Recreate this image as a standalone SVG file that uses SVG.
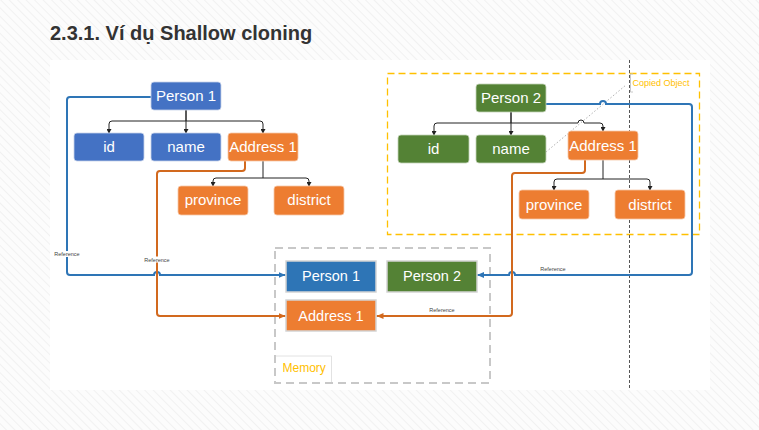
<svg xmlns="http://www.w3.org/2000/svg" width="759" height="430" viewBox="0 0 759 430">
<defs>
<pattern id="hatch" width="6" height="6" patternUnits="userSpaceOnUse" patternTransform="rotate(-45)">
<rect width="6" height="6" fill="#fcfcfc"/>
<line x1="0" y1="0" x2="0" y2="6" stroke="#f1f1f1" stroke-width="2"/>
</pattern>
<marker id="aBlk" markerWidth="5" markerHeight="5" refX="4" refY="2.5" orient="auto" markerUnits="userSpaceOnUse">
<path d="M0,0 L4.5,2.5 L0,5 Z" fill="#222"/>
</marker>
<marker id="aBlue" markerWidth="8" markerHeight="8" refX="7" refY="4" orient="auto" markerUnits="userSpaceOnUse">
<path d="M0,1 L7,4 L0,7 Z" fill="#2E75B6"/>
</marker>
<marker id="aOr" markerWidth="8" markerHeight="8" refX="7" refY="4" orient="auto" markerUnits="userSpaceOnUse">
<path d="M0,1 L7,4 L0,7 Z" fill="#D2691E"/>
</marker>
<style>
.t{font-family:"Liberation Sans",Arial,sans-serif;font-size:15px;fill:#fff;text-anchor:middle}
.tm{font-family:"Liberation Sans",Arial,sans-serif;font-size:14.5px;fill:#fff;text-anchor:middle}
.ref{font-family:"Liberation Sans",Arial,sans-serif;font-size:5.5px;fill:#444;text-anchor:middle}
.blue{fill:#4472C4;stroke:#c6d2ea;stroke-width:0.8}
.green{fill:#548235;stroke:#c3d3b8;stroke-width:0.8}
.orange{fill:#ED7D31;stroke:#f6c8a8;stroke-width:0.8}
.mem{stroke:#d4d4d4;stroke-width:1.5}
.tree{fill:none;stroke:#222;stroke-width:1;marker-end:url(#aBlk)}
.lb{fill:none;stroke:#2E75B6;stroke-width:2;marker-end:url(#aBlue)}
.lo{fill:none;stroke:#D2691E;stroke-width:2;marker-end:url(#aOr)}
</style>
</defs>
<rect width="759" height="430" fill="url(#hatch)"/>
<rect x="50" y="60" width="660" height="330" fill="#fff"/>
<text x="50" y="39.5" font-family="'Liberation Sans',Arial,sans-serif" font-size="20" font-weight="bold" fill="#333">2.3.1. Ví dụ Shallow cloning</text>

<g id="copied-object-frame">
<rect x="387.5" y="73.5" width="312" height="161" fill="none" stroke="#FFC000" stroke-width="1.3" stroke-dasharray="7,4"/>
<text x="632.5" y="86" font-family="'Liberation Sans',Arial,sans-serif" font-size="9" fill="#FFC000">Copied Object</text>
<path d="M633,74 H630.5 V92 H633" fill="none" stroke="#c8c8c8" stroke-width="1"/>
</g>

<g id="memory-frame">
<rect x="275" y="248" width="215" height="135" fill="none" stroke="#c8c8c8" stroke-width="2" stroke-dasharray="8,5"/>
<path d="M276,356 H331.5 V382" fill="none" stroke="#e2e2e2" stroke-width="1"/>
<text x="282.5" y="372" font-family="'Liberation Sans',Arial,sans-serif" font-size="12" fill="#FFC000">Memory</text>
</g>

<g id="divider">
<line x1="629.5" y1="60" x2="629.5" y2="390" stroke="#555" stroke-width="1" stroke-dasharray="3,2"/>
</g>

<g id="connectors">
<!-- left tree -->
<path class="tree" d="M186,110 V121 H112 Q109,121 109,124 V133"/>
<path class="tree" d="M186,110 V133"/>
<path class="tree" d="M186,121 H260 Q263,121 263,124 V133"/>
<path class="tree" d="M263,161 V178 H216 Q213,178 213,181 V186"/>
<path class="tree" d="M263,178 H306 Q309,178 309,181 V186"/>
<!-- right tree -->
<path class="tree" d="M511,112 V123 H437 Q434,123 434,126 V135"/>
<path class="tree" d="M511,112 V135"/>
<path class="tree" d="M511,123 H578 A3,3 0 0 1 584,123 H600 Q603,123 603,126 V131"/>
<path class="tree" d="M603,160 V179 H557 Q554,179 554,182 V190"/>
<path class="tree" d="M603,179 H647 Q650,179 650,182 V190"/>
<!-- callout -->
<line x1="546" y1="152" x2="626" y2="85" stroke="#b0b0b0" stroke-width="1" stroke-dasharray="1.5,2"/>
<!-- references -->
<path class="lb" d="M151,97 H70 Q67,97 67,100 V272 Q67,275 70,275 H154 A3,3 0 0 1 160,275 H285.5"/>
<path class="lo" d="M245,161 V168 Q245,171 242,171 H160 Q157,171 157,174 V313 Q157,316 160,316 H285.5"/>
<path class="lb" d="M546,104 H600 A3,3 0 0 1 606,104 H689 Q692,104 692,107 V272 Q692,275 689,275 H515 A3,3 0 0 0 509,275 H477"/>
<path class="lo" d="M585,160 V170 Q585,173 582,173 H515 Q512,173 512,176 V313 Q512,316 509,316 H376.5"/>
<rect x="54" y="251" width="26" height="6" fill="#fff"/>
<text class="ref" x="67" y="256">Reference</text>
<rect x="144" y="256.5" width="26" height="6" fill="#fff"/>
<text class="ref" x="157" y="261.5">Reference</text>
<text class="ref" x="553" y="270.5">Reference</text>
<text class="ref" x="442" y="312">Reference</text>
</g>

<g id="person1"><rect class="blue" x="151" y="82" width="70" height="28" rx="3"/><text class="t" x="186" y="101">Person 1</text></g>
<g id="p1-id"><rect class="blue" x="74" y="133" width="70" height="28" rx="3"/><text class="t" x="109" y="152">id</text></g>
<g id="p1-name"><rect class="blue" x="151" y="133" width="70" height="28" rx="3"/><text class="t" x="186" y="152">name</text></g>
<g id="p1-address"><rect class="orange" x="228" y="133" width="70" height="28" rx="3"/><text class="t" x="263" y="152">Address 1</text></g>
<g id="p1-province"><rect class="orange" x="178" y="186" width="70" height="29" rx="3"/><text class="t" x="213" y="205">province</text></g>
<g id="p1-district"><rect class="orange" x="274" y="186" width="70" height="29" rx="3"/><text class="t" x="309" y="205">district</text></g>

<g id="person2"><rect class="green" x="476" y="84" width="70" height="28" rx="3"/><text class="t" x="511" y="103">Person 2</text></g>
<g id="p2-id"><rect class="green" x="398" y="135" width="71" height="28" rx="3"/><text class="t" x="433.5" y="154">id</text></g>
<g id="p2-name"><rect class="green" x="476" y="135" width="70" height="28" rx="3"/><text class="t" x="511" y="154">name</text></g>
<g id="p2-address"><rect class="orange" x="568" y="131" width="70" height="29" rx="3"/><text class="t" x="603" y="150.5">Address 1</text></g>
<g id="p2-province"><rect class="orange" x="519" y="190" width="70" height="29" rx="3"/><text class="t" x="554" y="209.5">province</text></g>
<g id="p2-district"><rect class="orange" x="615" y="190" width="70" height="29" rx="3"/><text class="t" x="650" y="209.5">district</text></g>

<g id="mem-person1"><rect class="mem" x="286" y="261" width="90" height="31" fill="#2E75B6"/><text class="tm" x="331" y="281">Person 1</text></g>
<g id="mem-person2"><rect class="mem" x="387" y="261" width="90" height="31" fill="#548235"/><text class="tm" x="432" y="281">Person 2</text></g>
<g id="mem-address1"><rect class="mem" x="286" y="300" width="90" height="31" fill="#ED7D31"/><text class="tm" x="331" y="320.5">Address 1</text></g>
</svg>
